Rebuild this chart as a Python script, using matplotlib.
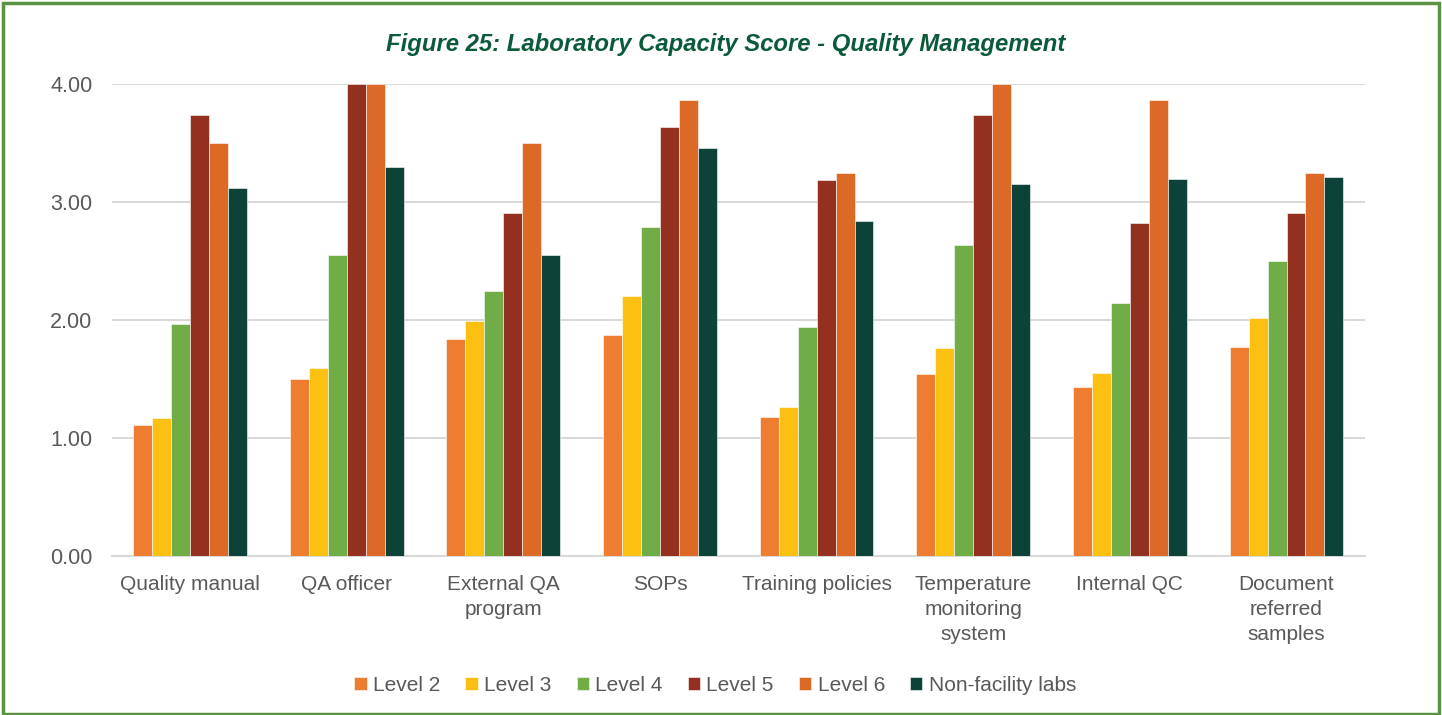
import numpy
import matplotlib
matplotlib.use( "Agg" )
import matplotlib.pyplot as plt
from matplotlib import patches

categories = [ "Quality manual", "QA officer", "External QA\nprogram", "SOPs",
               "Training policies", "Temperature\nmonitoring\nsystem", "Internal QC",
               "Document\nreferred\nsamples" ]
series_names = [ "Level 2", "Level 3", "Level 4", "Level 5", "Level 6", "Non-facility labs" ]
level2 = [ 1.11, 1.50, 1.84, 1.87, 1.18, 1.54, 1.43, 1.77 ]
level3 = [ 1.17, 1.59, 1.99, 2.20, 1.26, 1.76, 1.55, 2.02 ]
level4 = [ 1.97, 2.55, 2.25, 2.79, 1.94, 2.64, 2.14, 2.50 ]
level5 = [ 3.74, 4.00, 2.91, 3.64, 3.19, 3.74, 2.82, 2.91 ]
level6 = [ 3.50, 4.00, 3.50, 3.87, 3.25, 4.00, 3.87, 3.25 ]
non_facility = [ 3.12, 3.30, 2.55, 3.46, 2.84, 3.15, 3.20, 3.21 ]
y_ticks = [ 0, 1, 2, 3, 4 ]

colors = [ "#EF7D31", "#FBC012", "#71AD47", "#93301F", "#DD6926", "#0C4238" ]
all_series = [ level2, level3, level4, level5, level6, non_facility ]

FONT = [ "Liberation Sans Narrow", "Liberation Sans", "DejaVu Sans" ]
plt.rcParams[ "font.family" ] = FONT

figure = plt.figure( figsize=[14.42, 7.15], dpi=100 )
axes = figure.add_axes( [0.0775, 0.2228, 0.869, 0.6593] )

x = numpy.arange( len( categories ) )
bar_width = 0.121
for i, values in enumerate( all_series ):
    offset = ( i - 2.5 ) * bar_width
    axes.bar( x + offset, values, bar_width, color=colors[i], label=series_names[i],
              edgecolor="white", linewidth=0.4, zorder=3 )

axes.set_xlim( -0.5, len( categories ) - 0.5 )
axes.set_ylim( 0, 4.0 )
axes.set_yticks( y_ticks )
axes.set_yticklabels( [ "%.2f" % t for t in y_ticks ], fontsize=15.5, color="#595959" )
axes.set_xticks( x )
axes.set_xticklabels( categories, fontsize=15, color="#595959", linespacing=1.4 )
axes.tick_params( axis="both", length=0 )
axes.tick_params( axis="y", pad=14 )
axes.tick_params( axis="x", pad=14 )
axes.grid( axis="y", color="#d9d9d9", linewidth=1.5, zorder=0 )
for side in [ "top", "right", "left" ]:
    axes.spines[side].set_visible( False )
axes.spines["bottom"].set_color( "#d9d9d9" )
axes.spines["bottom"].set_linewidth( 1.5 )

figure.text( 0.5035, 0.938, "Figure 25: Laboratory Capacity Score - Quality Management",
             ha="center", va="center", fontsize=17.2, fontstyle="italic", fontweight="bold",
             color="#0B5A3A" )

figure.legend( loc="center", bbox_to_anchor=( 0.496, 0.041 ), ncol=6, frameon=False,
               fontsize=15, labelcolor="#595959", handlelength=0.6, handleheight=0.6,
               handletextpad=0.3, columnspacing=1.2 )

figure.add_artist( patches.Rectangle( ( 0.002, 0.002 ), 0.996, 0.994, transform=figure.transFigure,
                                      fill=False, edgecolor="#5B9440", linewidth=2.5 ) )

plt.savefig( "out.png" )
